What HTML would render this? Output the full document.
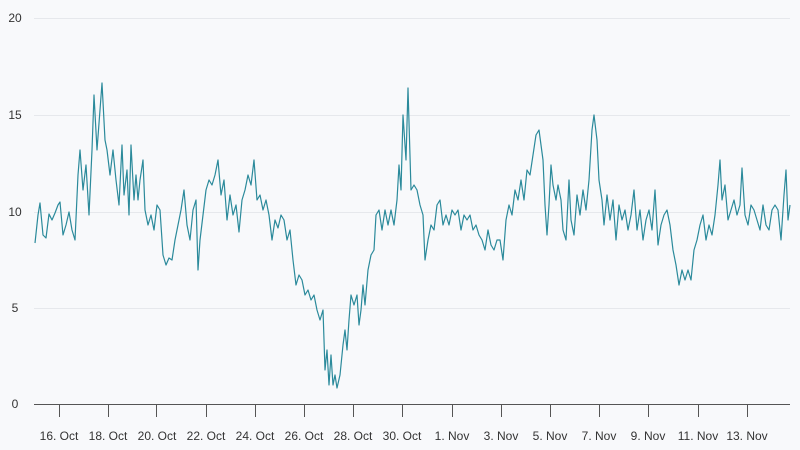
<!DOCTYPE html>
<html><head><meta charset="utf-8"><style>
body{margin:0;background:#f8f9fb;}
svg{display:block;font-family:"Liberation Sans",sans-serif;}
</style></head><body>
<svg width="800" height="450" viewBox="0 0 800 450">
<rect width="800" height="450" fill="#f8f9fb"/>
<g stroke="#e6e8ec" stroke-width="1">
<line x1="34" y1="18.5" x2="790" y2="18.5"/>
<line x1="34" y1="115.5" x2="790" y2="115.5"/>
<line x1="34" y1="212.5" x2="790" y2="212.5"/>
<line x1="34" y1="308.5" x2="790" y2="308.5"/>
</g>
<g fill="#333" font-size="12" text-anchor="middle">
<text x="15" y="22">20</text><text x="15" y="119">15</text><text x="15" y="216">10</text><text x="15" y="312">5</text><text x="15" y="408">0</text>
</g>
<line x1="34" y1="404.5" x2="790" y2="404.5" stroke="#555" stroke-width="1"/>
<g stroke="#555" stroke-width="1">
<line x1="59.5" y1="404" x2="59.5" y2="417"/><line x1="108.5" y1="404" x2="108.5" y2="417"/><line x1="156.5" y1="404" x2="156.5" y2="417"/><line x1="206.5" y1="404" x2="206.5" y2="417"/><line x1="255.5" y1="404" x2="255.5" y2="417"/><line x1="304.5" y1="404" x2="304.5" y2="417"/><line x1="353.5" y1="404" x2="353.5" y2="417"/><line x1="402.5" y1="404" x2="402.5" y2="417"/><line x1="452.5" y1="404" x2="452.5" y2="417"/><line x1="501.5" y1="404" x2="501.5" y2="417"/><line x1="550.5" y1="404" x2="550.5" y2="417"/><line x1="599.5" y1="404" x2="599.5" y2="417"/><line x1="648.5" y1="404" x2="648.5" y2="417"/><line x1="698.5" y1="404" x2="698.5" y2="417"/><line x1="747.5" y1="404" x2="747.5" y2="417"/>
</g>
<g fill="#333" font-size="12" text-anchor="middle">
<text x="59" y="440">16. Oct</text><text x="108" y="440">18. Oct</text><text x="157" y="440">20. Oct</text><text x="206" y="440">22. Oct</text><text x="255" y="440">24. Oct</text><text x="304" y="440">26. Oct</text><text x="353" y="440">28. Oct</text><text x="402" y="440">30. Oct</text><text x="452" y="440">1. Nov</text><text x="501" y="440">3. Nov</text><text x="550" y="440">5. Nov</text><text x="599" y="440">7. Nov</text><text x="648" y="440">9. Nov</text><text x="698" y="440">11. Nov</text><text x="747" y="440">13. Nov</text>
</g>
<polyline fill="none" stroke="#2b8a9b" stroke-width="1.2" stroke-linejoin="round" points="35,243 38,215 40,203 43,235 46,238 49,214 52,220 55,213 58,205 60,202 63,235 66,225 69,212 72,230 75,240 78,175 80,150 83,190 86,165 89,215 92,150 94,95 97,150 100,110 102,83 105,140 107,150 110,175 113,150 116,180 119,205 122,145 124,195 127,170 129,215 131,145 134,200 136,175 138,200 140,180 143,160 145,210 148,225 151,215 154,230 157,205 160,210 163,255 166,265 169,258 172,260 175,240 178,225 181,210 184,190 187,225 190,240 193,210 196,200 198,270 200,240 203,215 206,190 209,180 212,185 215,175 218,160 221,195 224,180 227,220 230,195 233,215 236,205 239,232 242,200 245,190 248,175 251,185 254,160 257,200 260,195 263,210 266,200 269,215 272,240 275,220 278,228 281,215 284,220 287,240 290,230 293,260 296,285 299,275 302,280 305,295 308,290 311,300 314,295 317,310 320,320 323,310 325,370 327,350 329,385 331,355 333,385 335,375 337,388 340,375 343,345 345,330 347,350 349,320 351,295 354,305 357,295 359,325 361,310 363,285 365,305 368,270 371,255 374,250 376,215 379,210 382,230 385,210 388,225 391,210 394,225 397,200 399,165 401,190 403,115 406,160 408,88 411,190 414,185 417,190 420,205 423,215 425,260 428,240 431,225 434,230 437,205 440,200 443,225 446,215 449,225 452,210 455,215 458,210 461,230 464,215 467,220 470,215 473,230 476,225 479,235 482,240 485,250 488,230 491,245 494,250 497,240 500,240 503,260 506,220 509,205 512,215 515,190 518,200 521,180 524,200 527,170 530,175 533,155 536,135 539,130 541,145 543,160 545,205 547,235 549,205 551,165 553,185 556,200 558,185 561,200 563,230 566,240 569,180 571,220 574,235 577,195 580,215 583,190 586,210 589,180 592,130 594,115 597,140 599,180 602,200 604,225 607,195 610,220 613,200 616,240 619,205 622,220 625,210 628,230 631,215 634,190 637,230 640,210 643,240 646,220 649,210 652,230 655,190 658,245 661,225 664,215 667,210 670,225 673,250 676,265 679,285 682,270 685,280 688,270 691,280 694,250 697,240 700,225 703,215 706,240 709,225 712,235 715,215 718,185 720,160 722,200 725,185 728,220 731,210 734,200 737,215 740,205 742,168 745,215 748,225 751,205 754,210 757,220 760,230 763,205 766,225 769,230 772,210 775,205 778,210 781,240 784,195 786,170 788,220 790,205"/>
</svg>
</body></html>
